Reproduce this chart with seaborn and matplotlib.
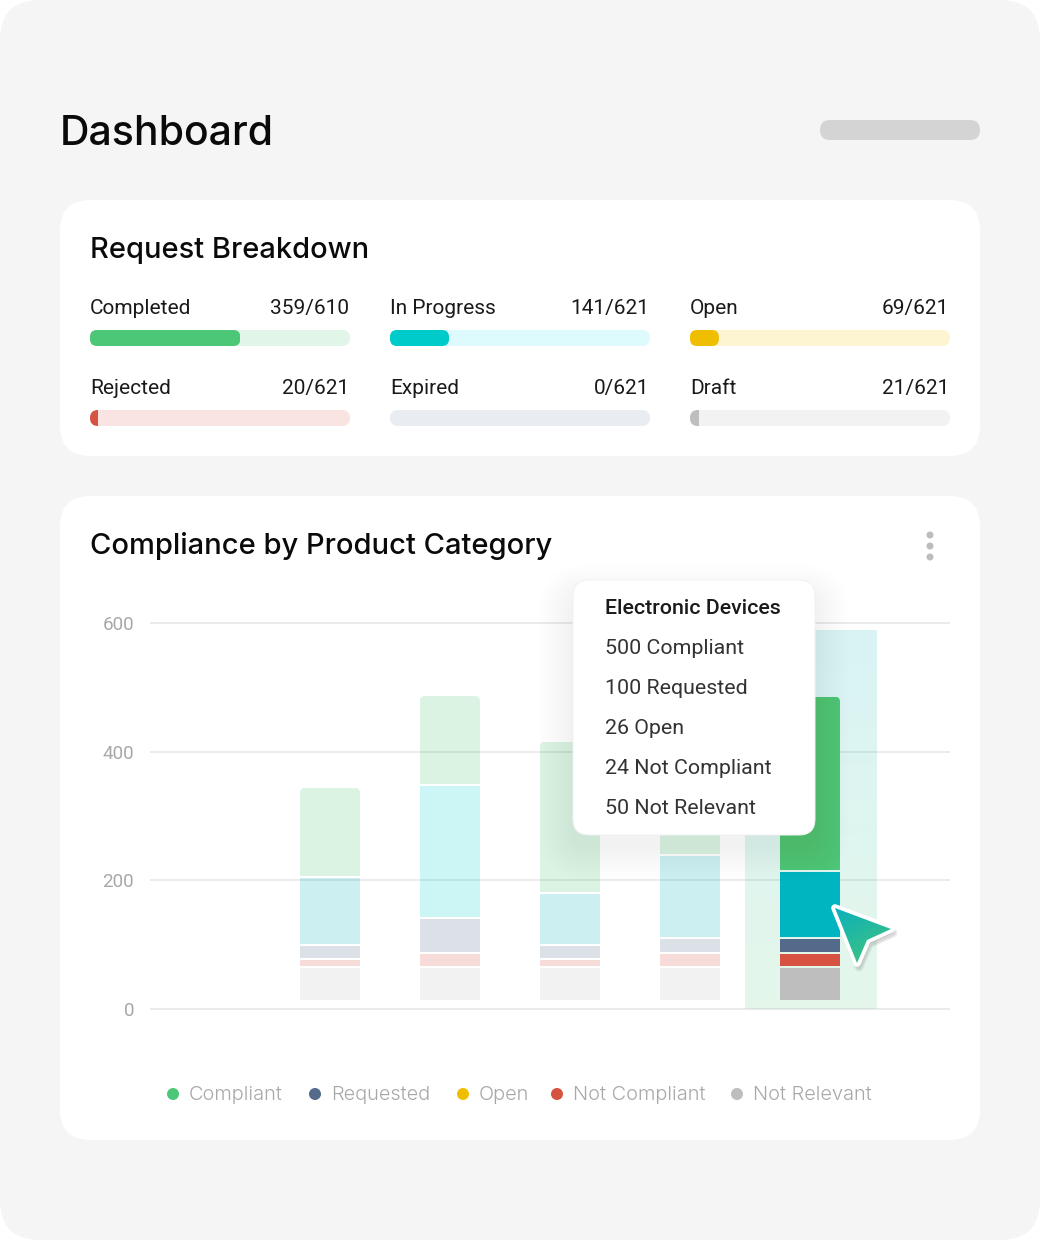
import numpy as np
import matplotlib
matplotlib.use("Agg")
import matplotlib.pyplot as plt
from matplotlib.patches import FancyBboxPatch, Circle, Polygon
import seaborn as sns

# ---------- data ----------
status_labels = ["Completed", "In Progress", "Open", "Rejected", "Expired", "Draft"]
status_done = [359, 141, 69, 20, 0, 21]
status_total = [610, 621, 621, 621, 621, 621]
status_scale = 621
status_fill = ["#4CC677", "#00CBCB", "#F0BE00", "#D65241", "#536A8A", "#BEBEBE"]
status_track = ["#E2F5E9", "#DDFBFC", "#FDF5D2", "#F9E4E2", "#E9EDF1", "#F2F2F2"]

slots = [1, 2, 3, 4, 5]
not_relevant = [50, 50, 50, 50, 50]
not_compliant = [9, 19, 9, 19, 19]
requested_low = [19, 50, 19, 19, 19]
requested = [102, 204, 78, 127, 102]
compliant = [137, 137, 233, 140, 269]
stack_names = ["Not Relevant", "Not Compliant", "Requested", "Requested2", "Compliant"]
stack_values = [not_relevant, not_compliant, requested_low, requested, compliant]
stack_colors = ["#BEBEBE", "#D65241", "#536A8A", "#00B4C0", "#4CC677"]
y_ticks = [0, 200, 400, 600]

tooltip_title = "Electronic Devices"
tooltip_rows = ["500 Compliant", "100 Requested", "26 Open", "24 Not Compliant", "50 Not Relevant"]
legend_labels = ["Compliant", "Requested", "Open", "Not Compliant", "Not Relevant"]
legend_colors = ["#4CC677", "#536A8A", "#F0BE00", "#D65241", "#BEBEBE"]

# ---------- setup ----------
sns.set_theme(style="white")
plt.rcParams["font.family"] = ["Roboto", "DejaVu Sans"]
W, H = 1040, 1240
fig = plt.figure(figsize=(W / 100, H / 100), dpi=100, facecolor="white")


def px_axes(x0, y0, x1, y1, z=0):
    return fig.add_axes([x0 / W, 1 - y1 / H, (x1 - x0) / W, (y1 - y0) / H], zorder=z)


page = px_axes(0, 0, W, H, 0)
page.set_xlim(0, W)
page.set_ylim(H, 0)
page.axis("off")


def rbox(ax, x0, y0, x1, y1, r, **kw):
    p = FancyBboxPatch((x0, y0), x1 - x0, y1 - y0, boxstyle=f"round,pad=0,rounding_size={r}",
                       linewidth=kw.pop("linewidth", 0), **kw)
    ax.add_patch(p)
    return p


def clip_shape(x0, y0, x1, y1, r):
    return FancyBboxPatch((x0, y0), x1 - x0, y1 - y0, boxstyle=f"round,pad=0,rounding_size={r}",
                          transform=page.transData)


TITLE = "Inter"
rbox(page, 0, 0, W, H, 40, facecolor="#F5F5F5")
rbox(page, 60, 200, 980, 456, 30, facecolor="white")
rbox(page, 60, 496, 980, 1140, 30, facecolor="white")
rbox(page, 820, 120, 980, 140, 10, facecolor="#D4D4D4")
page.text(60, 145, "Dashboard", fontsize=29.5, family=TITLE, weight=500, color="#0A0A0A")
page.text(90, 258, "Request Breakdown", fontsize=20.9, family=TITLE, weight=500, color="#0A0A0A")
page.text(90, 554, "Compliance by Product Category", fontsize=21, family=TITLE, weight=500, color="#0A0A0A")
for cy in (535, 546, 557):
    page.add_patch(Circle((930, cy), 3.5, facecolor="#BDBDBD", linewidth=0))

# ---------- progress rows ----------
col_x = [90, 390, 690]
row_y = [330, 410]
for i, lab in enumerate(status_labels):
    x0 = col_x[i % 3]
    y0 = row_y[i // 3]
    x1, y1 = x0 + 260, y0 + 16
    rbox(page, x0, y0, x1, y1, 8, facecolor=status_track[i])
    page.text(x0, y0 - 16, lab, fontsize=15, color="#1A1A1A")
    page.text(x1 - 1, y0 - 16, f"{status_done[i]}/{status_total[i]}", fontsize=15, color="#1A1A1A", ha="right")
    a = px_axes(x0, y0, x1, y1, 1)
    a.patch.set_alpha(0)
    sns.barplot(x=[status_done[i]], y=[lab], orient="h", color=status_fill[i], saturation=1, width=1,
                linewidth=0, ax=a)
    a.set_xlim(0, status_scale)
    a.set_ylim(0.5, -0.5)
    a.axis("off")
    fill_w = 260 * status_done[i] / status_scale
    for b in a.patches:
        if fill_w > 16:
            b.set_clip_path(clip_shape(x0, y0, x0 + fill_w, y1, 7))
        else:
            b.set_clip_path(clip_shape(x0, y0, x1, y1, 8))

# ---------- chart ----------
S = (1009 - 623) / 600.0  # pixels per unit
ax = px_axes(150, 610, 950, 1014, 2)
ax.patch.set_alpha(0)
GAP = 2 / S
BASE = 9 / S

# hover band
band = np.zeros((256, 1, 4))
t = np.linspace(0, 1, 256)
band[:, 0, 0] = ((0 * (1 - t) + 76 * t) / 255)
band[:, 0, 1] = ((180 * (1 - t) + 198 * t) / 255)
band[:, 0, 2] = ((192 * (1 - t) + 119 * t) / 255)
band[:, 0, 3] = 0.15

offset = np.full(len(slots), BASE)
for name, vals, col in zip(stack_names, stack_values, stack_colors):
    n0 = len(ax.patches)
    sns.barplot(x=slots, y=vals, bottom=offset, color=col, saturation=1, width=0.5,
                native_scale=True, linewidth=0, ax=ax)
    new = ax.patches[n0:]
    for j, b in enumerate(new):
        b.set_zorder(2)
        if name == "Requested2" and j == 1:
            b.set_facecolor("#00D0CD")
        b.set_alpha(1 if j == 4 else 0.2)
    if name == "Compliant":
        green = list(new)
    offset = offset + np.array(vals) + GAP

ax.set_xlim((150 - 330) / 120 + 1, (950 - 330) / 120 + 1)
ax.set_ylim(-5 / S, 399 / S)
xl, yl = ax.get_xlim(), ax.get_ylim()
ax.imshow(band, extent=[(745 - 330) / 120 + 1, (877 - 330) / 120 + 1, 0, 379 / S], aspect="auto",
          zorder=1, interpolation="bilinear", origin="upper")
ax.set_xlim(xl)
ax.set_ylim(yl)
ax.set_yticks(y_ticks)
ax.set_xticks([])
ax.set_xlabel("")
ax.set_ylabel("")
ax.set_axisbelow(True)
ax.grid(axis="y", color="#EBEBEB", linewidth=1.4)
ax.grid(axis="x", visible=False)
for s in ax.spines.values():
    s.set_visible(False)
ax.tick_params(axis="y", length=0, pad=11.5, labelsize=13.6, labelcolor="#A8A8A8")
for lbl in ax.get_yticklabels():
    lbl.set_y(lbl.get_position()[1])

# rounded top corners on the green caps
fig.canvas.draw()
for b in green:
    x, y0_ = b.get_x(), b.get_y()
    (dx0, dy0) = page.transData.inverted().transform(ax.transData.transform((x, y0_)))
    (dx1, dy1) = page.transData.inverted().transform(ax.transData.transform((x + b.get_width(), y0_ + b.get_height())))
    b.set_clip_path(clip_shape(dx0, dy1, dx1, dy0 + 12, 5))

# ---------- legend ----------
dot_x = [173, 315, 463, 557, 737]
for x, lab, c in zip(dot_x, legend_labels, legend_colors):
    page.add_patch(Circle((x, 1094), 6, facecolor=c, linewidth=0))
    page.text(x + 16, 1100, lab, fontsize=14.4, family=TITLE, weight=300, color="#A8A8A8")

# ---------- overlay: tooltip, cursor ----------
over = px_axes(0, 0, W, H, 5)
over.patch.set_alpha(0)
over.set_xlim(0, W)
over.set_ylim(H, 0)
over.axis("off")
for k in range(1, 14):
    g = k * 2.6
    rbox(over, 573 - g, 598 - g, 815 + g, 846 + g, 16 + g, facecolor="#50505A", alpha=0.0055)
rbox(over, 573, 580, 815, 835, 16, facecolor="white", edgecolor="#F1F1F4", linewidth=0.7)
over.text(605, 614, tooltip_title, fontsize=15.4, weight=500, color="#1A1A1A")
for n, row in enumerate(tooltip_rows):
    over.text(605, 654 + 40 * n, row, fontsize=15.4, color="#333333")

arrow = [(835, 908), (891, 929), (867, 940), (857, 963)]
for k, lw in enumerate((9, 7, 5)):
    over.add_patch(Polygon([(x + 2, y + 4) for x, y in arrow], closed=True, facecolor="#555555",
                           edgecolor="#555555", linewidth=lw * 0.72, joinstyle="round", alpha=0.08))
over.add_patch(Polygon(arrow, closed=True, facecolor="white", edgecolor="white", linewidth=5.5, joinstyle="round"))
grad = np.zeros((64, 64, 3))
u = np.linspace(0, 1, 64)
mix = (u[None, :] * 0.35 + u[:, None] * 0.65)
grad[:, :, 0] = (10 * (1 - mix) + 70 * mix) / 255
grad[:, :, 1] = (176 * (1 - mix) + 198 * mix) / 255
grad[:, :, 2] = (190 * (1 - mix) + 120 * mix) / 255
im = over.imshow(grad, extent=[833, 893, 965, 906], aspect="auto", zorder=6)
clip = Polygon(arrow, closed=True, transform=over.transData)
im.set_clip_path(clip)
over.set_xlim(0, W)
over.set_ylim(H, 0)

fig.savefig("out.png", dpi=100, facecolor="white")
